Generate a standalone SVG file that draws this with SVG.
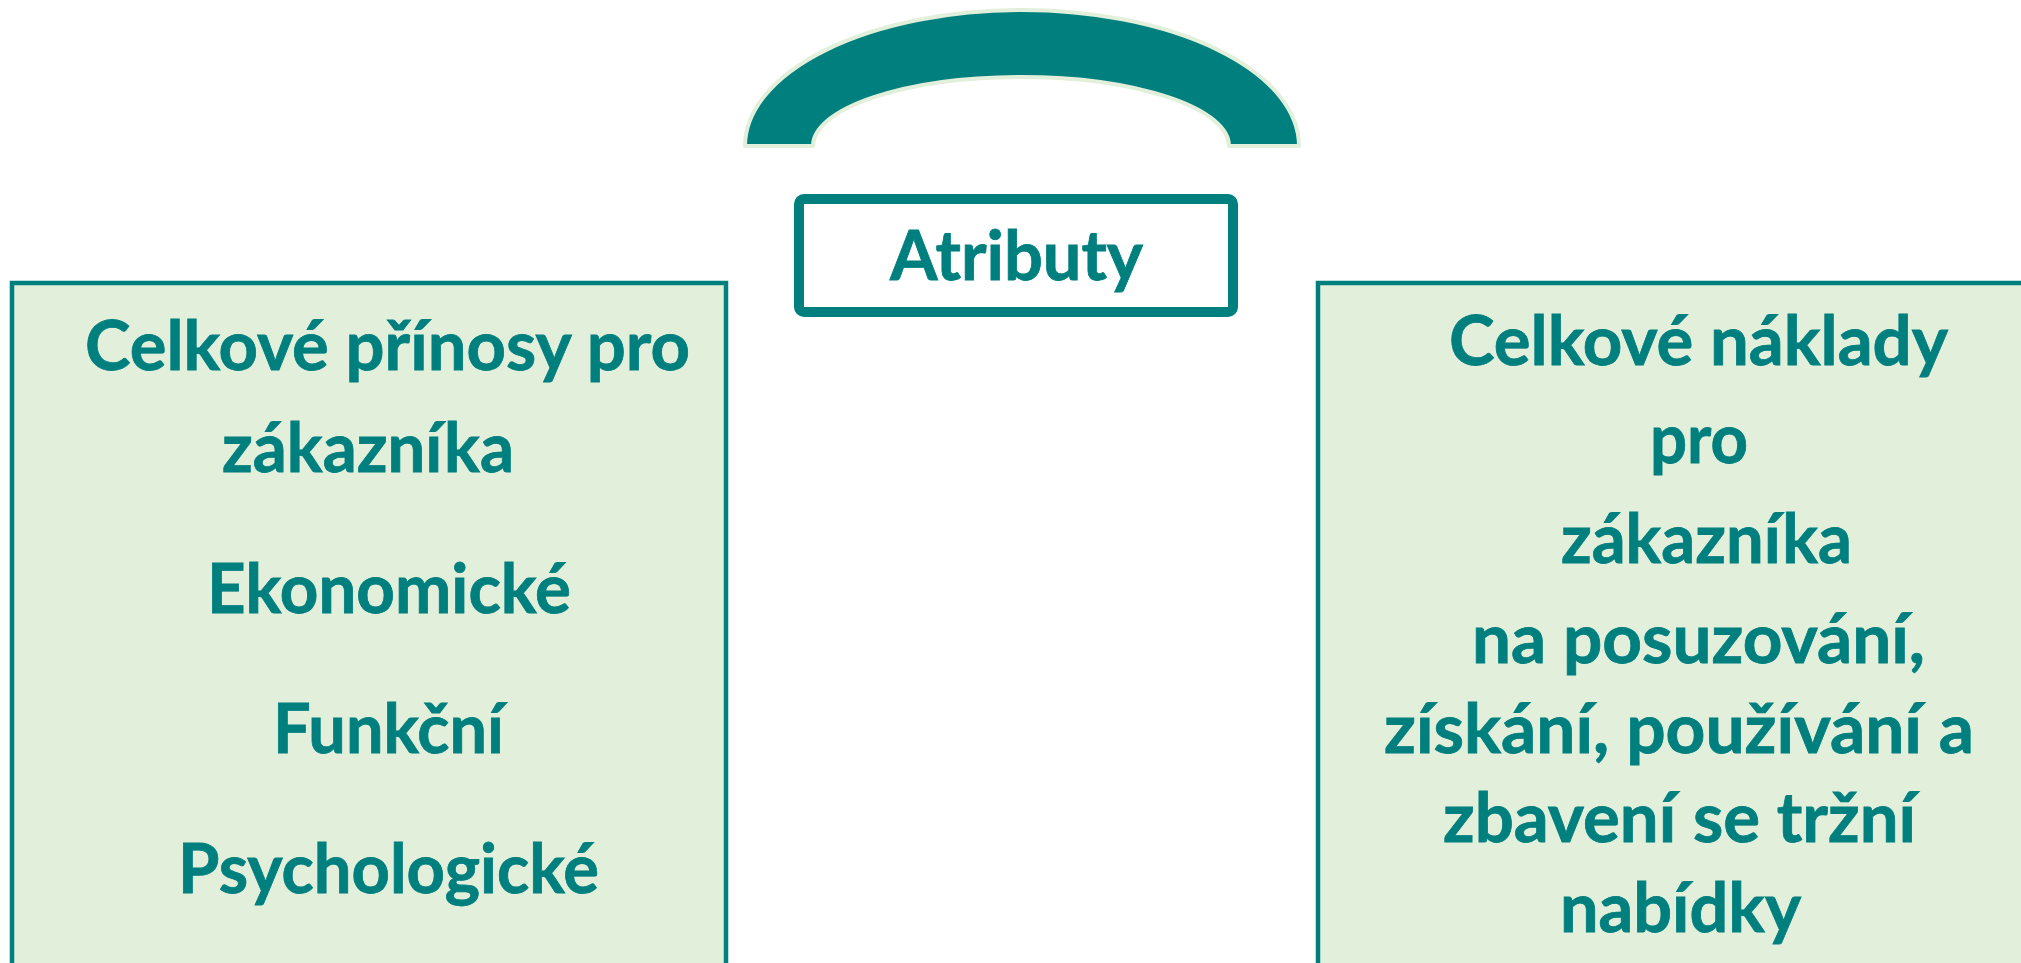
<svg xmlns="http://www.w3.org/2000/svg" width="2021" height="963" viewBox="0 0 2021 963">
<style>
.t{font-family:Lato,"Open Sans","Liberation Sans",sans-serif;font-weight:700;font-size:69px;fill:#007F7F;stroke:#007F7F;stroke-width:0.8}
.box{fill:#E2EFDA;stroke:#007F7F;stroke-width:4.5}
</style>
<rect width="2021" height="963" fill="#FFFFFF"/>
<g id="arch">
<path d="M745,146 A277,136 0 0 1 1299,146 L1229,146 A208,69 0 0 0 813,146 Z" fill="#007F7F" stroke="#E2EFDA" stroke-width="4" stroke-linejoin="round"/>
</g>
<g id="atributy">
<rect x="799" y="199" width="434" height="113" rx="5" fill="#FFFFFF" stroke="#007F7F" stroke-width="10"/>
<text class="t" x="890" y="280" textLength="253" lengthAdjust="spacingAndGlyphs">Atributy</text>
</g>
<g id="prinosy">
<rect class="box" x="12" y="283" width="714" height="720"/>
<text class="t" x="85" y="370" textLength="605" lengthAdjust="spacingAndGlyphs">Celkové přínosy pro</text>
<text class="t" x="222" y="472" textLength="292" lengthAdjust="spacingAndGlyphs">zákazníka</text>
<text class="t" x="207" y="613" textLength="364" lengthAdjust="spacingAndGlyphs">Ekonomické</text>
<text class="t" x="273" y="753" textLength="231" lengthAdjust="spacingAndGlyphs">Funkční</text>
<text class="t" x="178" y="893" textLength="421" lengthAdjust="spacingAndGlyphs">Psychologické</text>
</g>
<g id="naklady">
<rect class="box" x="1318" y="283" width="760" height="720"/>
<text class="t" x="1449" y="365" textLength="499" lengthAdjust="spacingAndGlyphs">Celkové náklady</text>
<text class="t" x="1650" y="463" textLength="98" lengthAdjust="spacingAndGlyphs">pro</text>
<text class="t" x="1561" y="563" textLength="291" lengthAdjust="spacingAndGlyphs">zákazníka</text>
<text class="t" x="1472" y="663" textLength="453" lengthAdjust="spacingAndGlyphs">na posuzování,</text>
<text class="t" x="1384" y="753" textLength="590" lengthAdjust="spacingAndGlyphs">získání, používání a</text>
<text class="t" x="1443" y="842" textLength="473" lengthAdjust="spacingAndGlyphs">zbavení se tržní</text>
<text class="t" x="1560" y="932" textLength="241" lengthAdjust="spacingAndGlyphs">nabídky</text>
</g>
<g id="connectors"></g>
</svg>
